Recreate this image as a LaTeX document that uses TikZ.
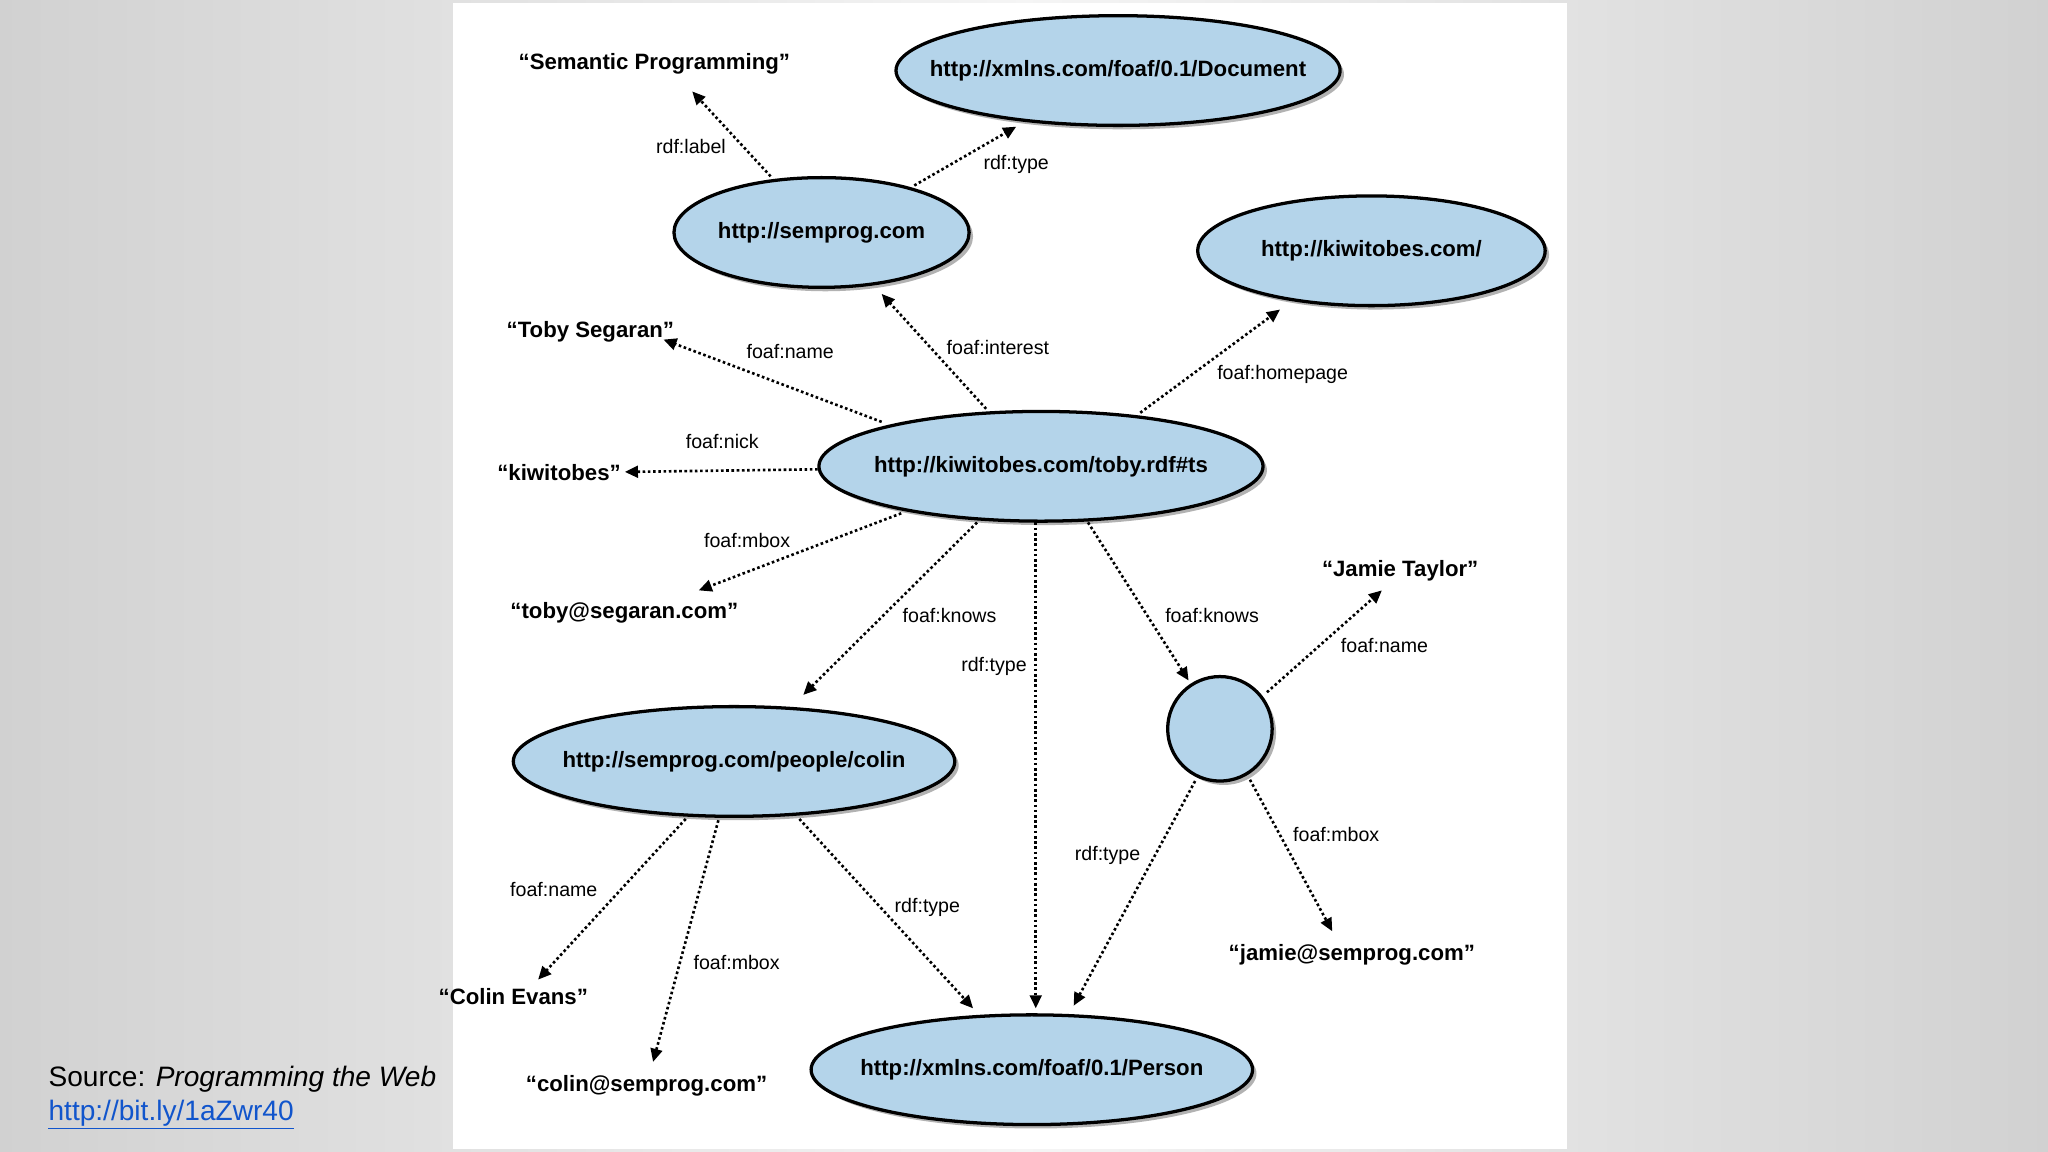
\documentclass[tikz,border=0pt]{standalone}
\usepackage{fontspec}
\setmainfont{Liberation Sans}
\usetikzlibrary{shapes.geometric,shadows,arrows.meta}
\definecolor{nodeblue}{RGB}{180,212,234}
\definecolor{linkblue}{RGB}{17,85,204}
\begin{document}
\begin{tikzpicture}[x=1pt,y=-1pt,
  res/.style={ellipse,draw=black,line width=2.5pt,fill=nodeblue,
    drop shadow={shadow xshift=3pt,shadow yshift=-3pt,opacity=0.6},
    font=\fontsize{17}{20}\selectfont\bfseries,inner sep=-40pt},
  lit/.style={font=\fontsize{17}{20}\selectfont\bfseries,inner sep=3pt},
  lab/.style={font=\fontsize{15}{17}\selectfont,inner sep=1pt},
  rel/.style={line width=2pt,dotted,-{Triangle[length=10pt,width=9pt]}}]
\useasboundingbox (0,0) rectangle (1568,882);
\shade[left color=black!18,right color=black!4] (0,0) rectangle (784,882);
\shade[left color=black!4,right color=black!18] (784,0) rectangle (1568,882);
\fill[white] (347,2) rectangle (1200,880);
% resources
\node[res,minimum width=340pt,minimum height=84pt] (doc) at (856,54) {http://xmlns.com/foaf/0.1/Document};
\node[res,minimum width=226pt,minimum height=84pt] (sem) at (629,178) {http://semprog.com};
\node[res,minimum width=266pt,minimum height=84pt] (kiwi) at (1050,192) {http://kiwitobes.com/};
\node[res,minimum width=340pt,minimum height=84pt] (toby) at (797,357) {http://kiwitobes.com/toby.rdf\#ts};
\node[res,minimum width=338pt,minimum height=84pt] (colin) at (562,583) {http://semprog.com/people/colin};
\node[res,minimum width=338pt,minimum height=84pt] (person) at (790,819) {http://xmlns.com/foaf/0.1/Person};
\node[res,circle,inner sep=0pt,minimum size=80pt] (blank) at (934,558) {};
% literals
\node[lit] (sp) at (501,49) {“Semantic Programming”};
\node[lit] (ts) at (452,254) {“Toby Segaran”};
\node[lit] (kw) at (428,362) {“kiwitobes”};
\node[lit] (tm) at (478,469) {“toby@segaran.com”};
\node[lit] (jt) at (1072,437) {“Jamie Taylor”};
\node[lit] (jm) at (1035,731) {“jamie@semprog.com”};
\node[lit] (ce) at (393,763) {“Colin Evans”};
\node[lit] (cm) at (495,831) {“colin@semprog.com”};
% edges
\draw[rel] ([shift={(-39,-43)}]sem.center) -- ([shift={(29,21)}]sp.center);
\draw[rel] ([shift={(71,-36)}]sem.center) -- ([shift={(-78,43)}]doc.center);
\draw[rel] ([shift={(-42,-44)}]toby.center) -- ([shift={(46,47)}]sem.center);
\draw[rel] ([shift={(76,-41)}]toby.center) -- ([shift={(-70,45)}]kiwi.center);
\draw[rel] ([shift={(-122,-34)}]toby.center) -- ([shift={(56,6)}]ts.center);
\draw[rel] (toby) -- (kw);
\draw[rel] ([shift={(-107,36)}]toby.center) -- ([shift={(57,-17)}]tm.center);
\draw[rel] ([shift={(-49,43)}]toby.center) -- ([shift={(53,-51)}]colin.center);
\draw[rel] ([shift={(-4,43)}]toby.center) -- ([shift={(3,-47)}]person.center);
\draw[rel] ([shift={(36,43)}]toby.center) -- ([shift={(-24,-37)}]blank.center);
\draw[rel] ([shift={(36,-28)}]blank.center) -- ([shift={(-14,15)}]jt.center);
\draw[rel] ([shift={(23,39)}]blank.center) -- ([shift={(-15,-18)}]jm.center);
\draw[rel] ([shift={(-19,40)}]blank.center) -- ([shift={(32,-49)}]person.center);
\draw[rel] ([shift={(-37,44)}]colin.center) -- ([shift={(19,-13)}]ce.center);
\draw[rel] ([shift={(-12,45)}]colin.center) -- ([shift={(5,-18)}]cm.center);
\draw[rel] ([shift={(50,44)}]colin.center) -- ([shift={(-45,-47)}]person.center);
% labels
\node[lab] at (529,112) {rdf:label};
\node[lab] at (778,126) {rdf:type};
\node[lab] at (764,266) {foaf:interest};
\node[lab] at (982,287) {foaf:homepage};
\node[lab] at (605,269) {foaf:name};
\node[lab] at (553,338) {foaf:nick};
\node[lab] at (572,414) {foaf:mbox};
\node[lab] at (727,471) {foaf:knows};
\node[lab] at (761,510) {rdf:type};
\node[lab] at (928,471) {foaf:knows};
\node[lab] at (1060,494) {foaf:name};
\node[lab] at (1023,639) {foaf:mbox};
\node[lab] at (848,655) {rdf:type};
\node[lab] at (424,681) {foaf:name};
\node[lab] at (564,737) {foaf:mbox};
\node[lab] at (710,695) {rdf:type};
% source
\node[anchor=west,font=\fontsize{21.5}{25}\selectfont,inner sep=0pt] (src) at (37,826) {Source: \textit{Programming the Web}};
\node[anchor=west,font=\fontsize{21.5}{25}\selectfont,text=linkblue,inner sep=0pt] (url) at (37,852) {http://bit.ly/1aZwr40};
\draw[linkblue,line width=1pt] ([yshift=-2pt]url.south west) -- ([yshift=-2pt]url.south east);
\end{tikzpicture}
\end{document}
